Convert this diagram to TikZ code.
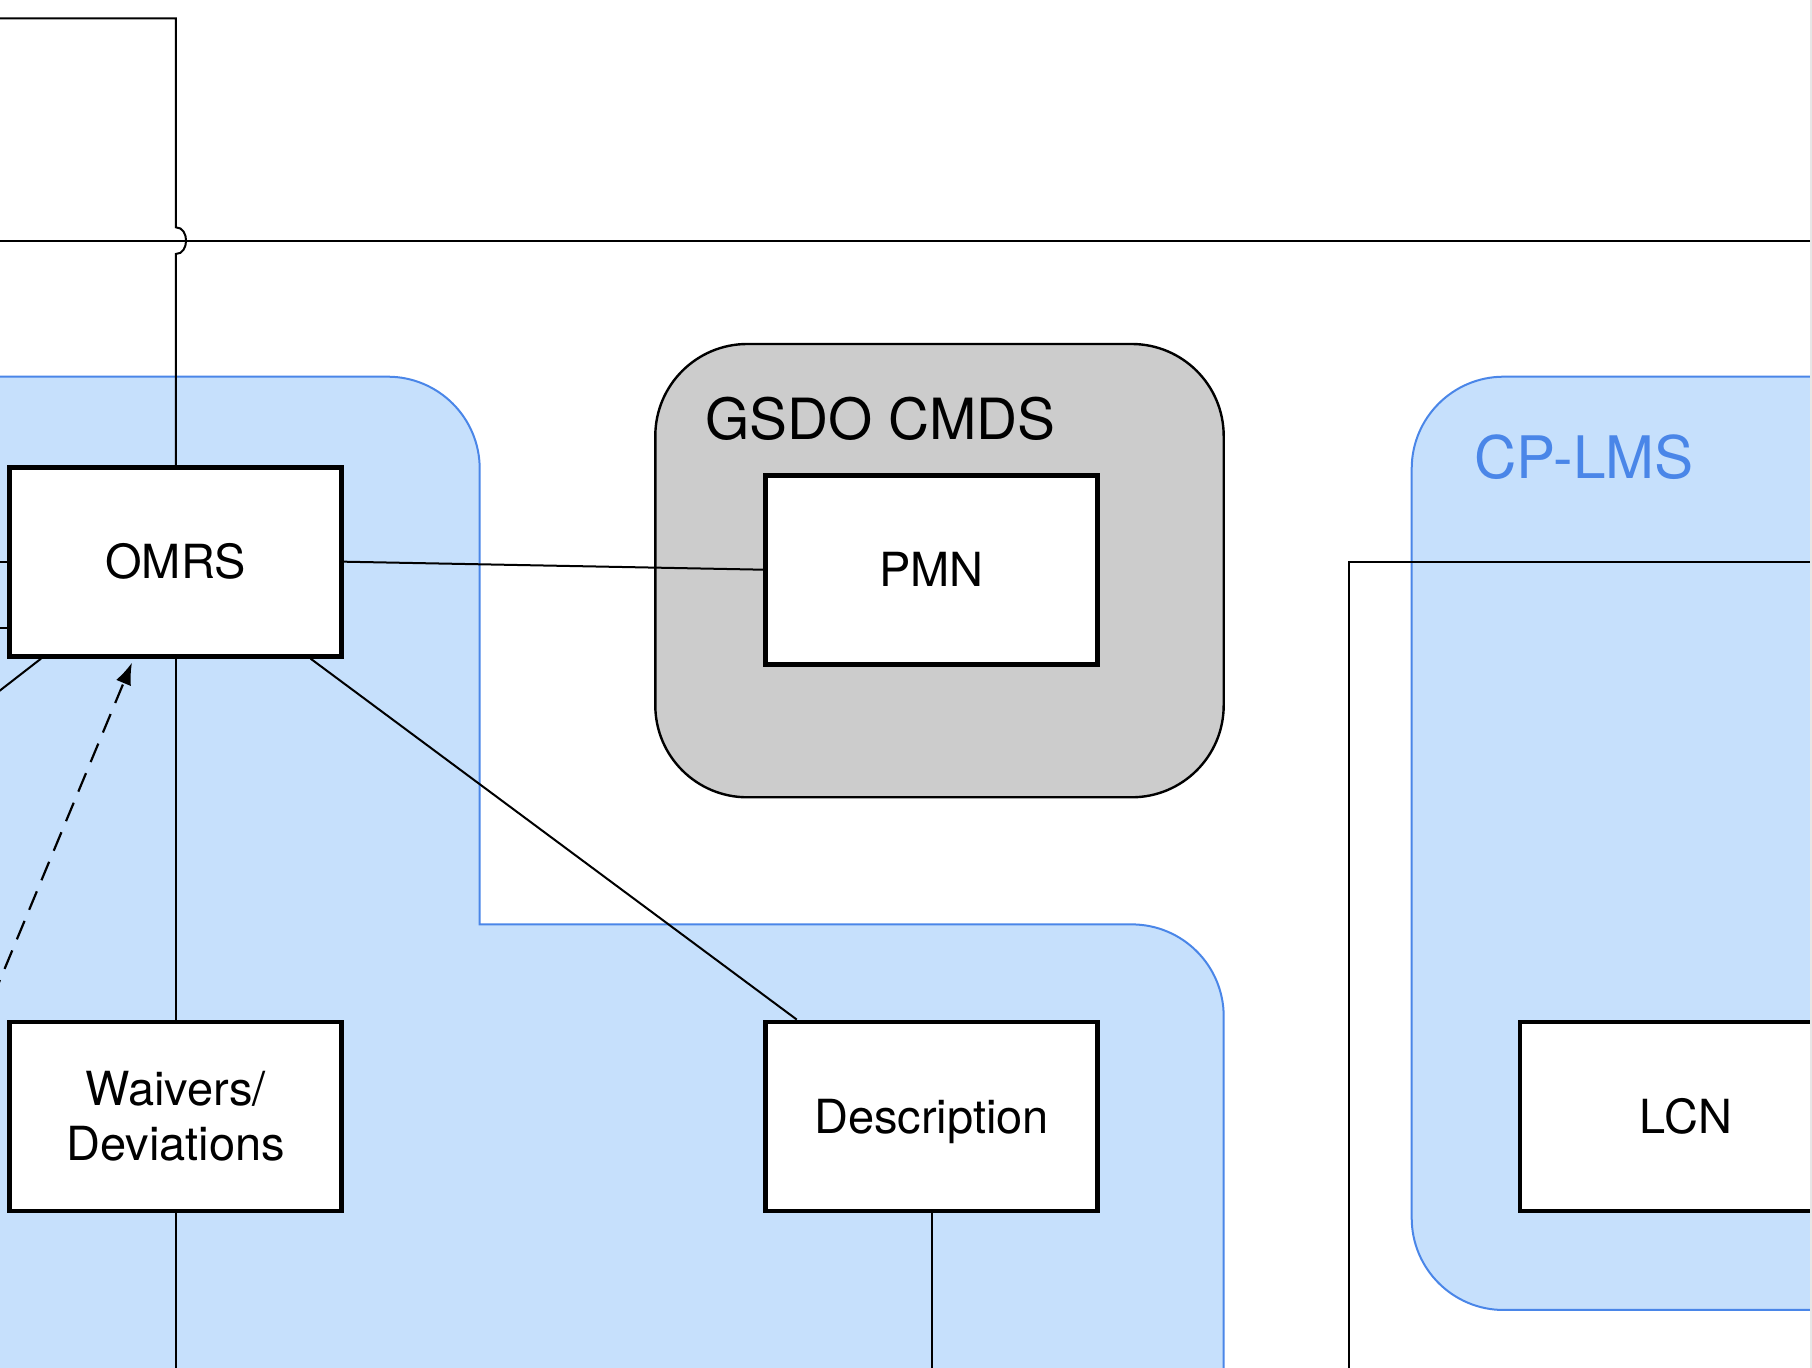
\documentclass[tikz,border=0pt]{standalone}
\usepackage{fontspec}
\setmainfont{TeX Gyre Heros}
\usetikzlibrary{calc,arrows.meta}
\definecolor{regionblue}{HTML}{C6E0FC}
\definecolor{regionedge}{HTML}{4A86E8}
\definecolor{cmdsgray}{HTML}{CCCCCC}
\definecolor{edgestrip}{HTML}{E6E6E6}
\begin{document}
\begin{tikzpicture}[x=0.5pt,y=-0.5pt,
  box/.style={draw=black, fill=white, line width=2.4pt, minimum width=166pt, minimum height=94.5pt,
    inner sep=0pt, font=\fontsize{23.5}{27.7}\selectfont, align=center},
  conn/.style={draw=black, line width=1pt},
  region/.style={fill=regionblue, draw=regionedge, line width=1pt},
  title/.style={anchor=base west, inner sep=0pt}]
\useasboundingbox (0,0) rectangle (1812,1368);
\begin{scope}
\clip (0,0) rectangle (1810,1368);
% left (OMRS) region
\path[region] (-20,376.7) -- (387.7,376.7) .. controls (438.5,376.7) and (479.7,417.9) .. (479.7,468.7)
  -- (479.7,924.4) -- (1131.7,924.4) .. controls (1182.5,924.4) and (1223.7,965.6) .. (1223.7,1016.4)
  -- (1223.7,1400) -- (-20,1400) -- cycle;
% CP-LMS region
\path[region, rounded corners=46pt] (1411.7,376.7) rectangle (1900,1310);
% GSDO CMDS container
\path[fill=cmdsgray, draw=black, line width=1.2pt, rounded corners=46pt] (655.3,344) rectangle (1223.7,797.3);

\node[title, font=\fontsize{28.4}{32}\selectfont] (gsdo) at (705,440) {GSDO CMDS};
\node[title, font=\fontsize{29.3}{33}\selectfont, text=regionedge] (cplms) at (1474,478.3) {CP-LMS};

\node[box] (OMRS) at (175.8,561.7) {OMRS};
\node[box] (PMN) at (931.5,569.7) {PMN};
\node[box] (WD) at (175.8,1116.5) {Waivers/\\Deviations};
\node[box, text depth=0pt] (DESC) at (931.5,1116.5) {Description};
\node[box] (LCN) at (1686,1116.5) {LCN};

% connectors
\coordinate (tl) at (-20,18.3);
\coordinate (ja) at (175.8,227.3);
\coordinate (jb) at (175.8,254);
\draw[conn] (tl) -| (ja) .. controls (189.5,227.3) and (189.5,254) .. (jb) -- (OMRS.north);
\coordinate (hl) at (-20,240.7);
\coordinate (hr) at (1830,240.7);
\draw[conn] (hl) -- (hr);

\draw[conn] (OMRS.east) -- (PMN.west);
\coordinate (sa) at (-20,561.7);
\draw[conn] (sa) -- (OMRS.west);
\coordinate (sb) at (-20,628.3);
\draw[conn] (sb) -- (sb -| OMRS.west);
\coordinate (sc) at (-20,706);
\draw[conn] ($(OMRS.south west)!0.1!(OMRS.south east)$) -- (sc);
\coordinate (ds) at (-20,1028);
\draw[conn, line width=1.1pt, dash pattern=on 10pt off 6pt, -{Latex[length=11pt,width=8pt]}] (ds) -- ($(OMRS.south west)!0.37!(OMRS.south east)+(0,4)$);

\draw[conn] (OMRS.south) -- (WD.north);
\draw[conn] ($(OMRS.south west)!0.9!(OMRS.south east)$) -- ($(DESC.north west)!0.1!(DESC.north east)$);
\coordinate (bot) at (0,1400);
\draw[conn] (WD.south) -- (WD.south |- bot);
\draw[conn] (DESC.south) -- (DESC.south |- bot);
\coordinate (cb) at (1348.5,1400);
\coordinate (cr) at (1830,561.7);
\draw[conn] (cb) |- (cr);
\end{scope}
\fill[edgestrip] (1810,0) rectangle (1812,1368);
\end{tikzpicture}
\end{document}
